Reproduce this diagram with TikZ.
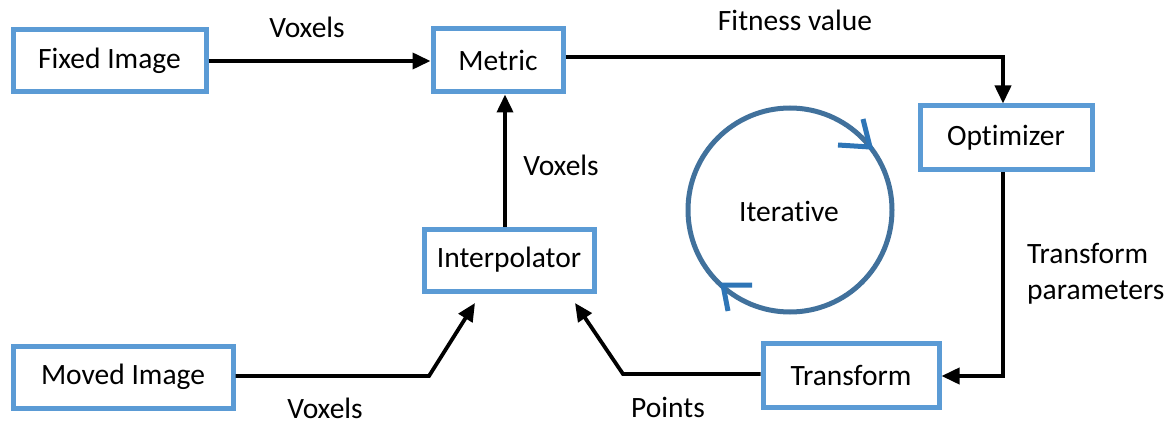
\documentclass[tikz,border=0pt]{standalone}
\usepackage{fontspec}
\setmainfont{Carlito}[Ligatures=NoCommon]
\usetikzlibrary{arrows.meta}
\definecolor{boxblue}{HTML}{5B9BD5}
\definecolor{cycblue}{HTML}{41719C}
\definecolor{tipblue}{HTML}{2E75B6}
\begin{document}
\begin{tikzpicture}[x=1pt,y=-1pt,
  every node/.style={font=\fontsize{29.5}{36}\selectfont, inner sep=0pt},
  box/.style={draw=boxblue, line width=5pt, fill=white},
  arr/.style={draw=black, line width=3.8pt, -{Triangle[length=18pt,width=16pt]}},
  lbl/.style={text=black}]
\useasboundingbox (0,0) rectangle (1173,425);
% boxes
\node[box, minimum width=193pt, minimum height=62pt] (fixed) at (109.5,61) {Fixed Image};
\node[box, minimum width=130pt, minimum height=63pt] (metric) at (498,60.5) {Metric};
\node[box, minimum width=172pt, minimum height=64pt] (optimizer) at (1006,138) {Optimizer};
\node[box, minimum width=170pt, minimum height=62pt] (interp) at (509,260) {Interpolator};
\node[box, minimum width=220pt, minimum height=62pt] (moved) at (123,377) {Moved Image};
\node[box, minimum width=176pt, minimum height=64pt] (transform) at (851,375) {Transform};
% helper coordinates
\coordinate (c1) at (1003,57);
\coordinate (c2) at (1003,376);
\coordinate (c3) at (505,0);
\coordinate (k1) at (623,374);
\coordinate (t1) at (575,303);
\coordinate (k2) at (429,376);
\coordinate (t2) at (475,303);
% connectors
\draw[arr] (fixed.east) -- (fixed.east -| metric.west);
\draw[arr] (metric.east |- c1) -- (c1) -- (c1 |- optimizer.north);
\draw[arr] (c2 |- optimizer.south) -- (c2) -- (c2 -| transform.east);
\draw[arr] (transform.west |- k1) -- (k1) -- (t1);
\draw[arr] (moved.east |- k2) -- (k2) -- (t2);
\draw[arr] (c3 |- interp.north) -- (c3 |- metric.south);
% labels
\node[lbl] (l1) at (307,27) {Voxels};
\node[lbl] (l2) at (795,20) {Fitness value};
\node[lbl] (l3) at (561,165) {Voxels};
\node[lbl, align=left, anchor=west] (l4) at (1027,274) {Transform\\parameters};
\node[lbl] (l5) at (325,408) {Voxels};
\node[lbl] (l6) at (668,407) {Points};
% iterative cycle
\node[lbl] (iter) at (789,211) {Iterative};
\draw[cycblue, line width=5pt] (790,210) circle (102pt);
\draw[tipblue, line width=5pt, line join=miter] (838,145) -- (870,147) -- (863,119);
\draw[tipblue, line width=5pt, line join=miter] (752,285) -- (723,285) -- (728,311);
\end{tikzpicture}
\end{document}
